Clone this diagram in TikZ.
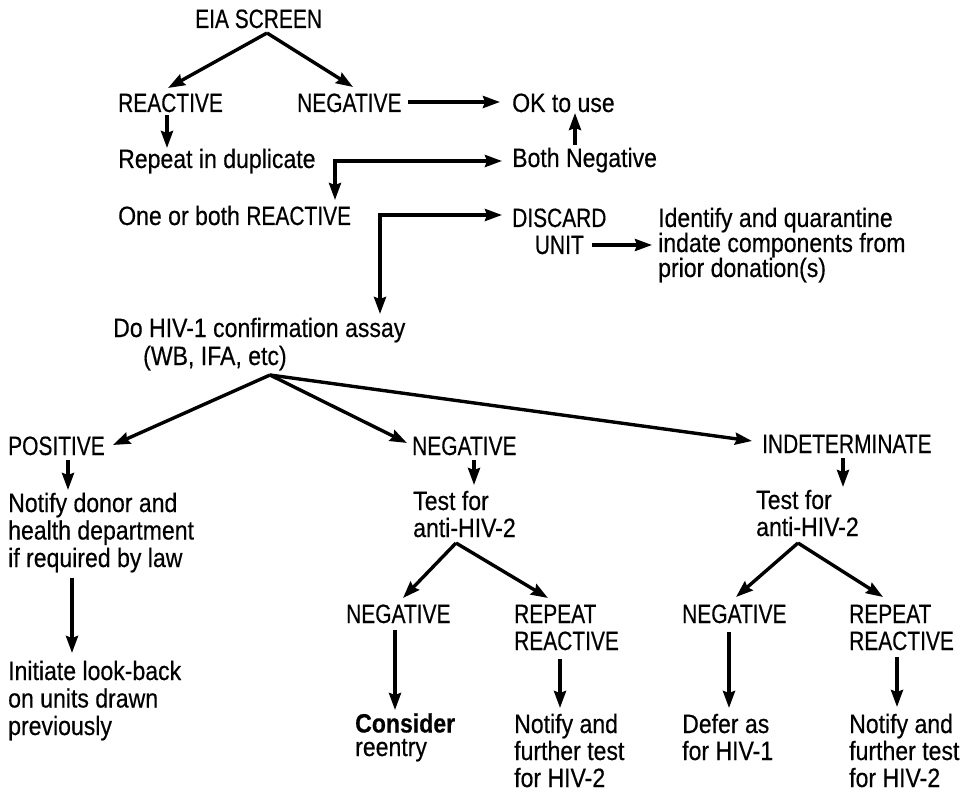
\documentclass[tikz,border=0pt]{standalone}
\usepackage{fontspec}
\setmainfont{Liberation Sans}[FakeStretch=0.87,FakeBold=0.4]
\newfontfamily\capsfont{Liberation Sans}[FakeStretch=0.79,FakeBold=0.4]
\usetikzlibrary{arrows.meta}
\begin{document}
\begin{tikzpicture}[x=1pt,y=-1pt,
  lbl/.style={inner sep=0pt, anchor=base west, align=left, font=\fontsize{26.5}{27}\selectfont},
  caps/.style={lbl, font=\capsfont\fontsize{26.5}{27}\selectfont},
  arr/.style={line width=3.4pt, -{Stealth[length=17pt,width=12pt,inset=2pt]}},
  darr/.style={line width=3.4pt, {Stealth[length=17pt,width=12pt,inset=2pt]}-{Stealth[length=17pt,width=12pt,inset=2pt]}}]
\useasboundingbox (0,0) rectangle (964,794);

% ---- nodes (anchor: baseline of the last line) ----
\node[caps] (eia) at (195,28) {EIA SCREEN};
\node[caps] (react) at (118,112) {REACTIVE};
\node[caps] (neg1) at (297,112) {NEGATIVE};
\node[lbl] (ok) at (512,112) {OK to use};
\node[lbl] (rep) at (118,168) {Repeat in duplicate};
\node[lbl] (bothneg) at (512,167) {Both Negative};
\node[lbl] (oneboth) at (118,225) {One or both {\capsfont REACTIVE}};
\node[caps, align=center] (discard) at (512,254) {DISCARD\\UNIT};
\node[lbl, font=\fontsize{26.5}{25}\selectfont] (ident) at (658,277) {Identify and quarantine\\indate components from\\prior donation(s)};
\node[lbl, font=\fontsize{26.5}{28}\selectfont] (dohiv) at (113,365) {Do HIV-1 confirmation assay\\\hspace*{30pt}(WB, IFA, etc)};
\node[caps] (pos) at (8,455) {POSITIVE};
\node[caps] (neg2) at (412,455) {NEGATIVE};
\node[caps] (indet) at (762,453) {INDETERMINATE};
\node[lbl, font=\fontsize{26.5}{27.5}\selectfont] (notify) at (8,567) {Notify donor and\\health department\\if required by law};
\node[lbl, font=\fontsize{26.5}{27.5}\selectfont] (initiate) at (8,735) {Initiate look-back\\on units drawn\\previously};
\node[lbl] (test1) at (413,537) {Test for\\anti-HIV-2};
\node[lbl] (test2) at (756,536) {Test for\\anti-HIV-2};
\node[caps] (neg3) at (346,623) {NEGATIVE};
\node[caps] (rr1) at (514,650) {REPEAT\\REACTIVE};
\node[caps] (neg4) at (682,623) {NEGATIVE};
\node[caps] (rr2) at (849,650) {REPEAT\\REACTIVE};
\node[lbl, font=\fontsize{26.5}{23.5}\selectfont] (consider) at (355,756) {\textbf{Consider}\\reentry};
\node[lbl] (notify2) at (514,787) {Notify and\\further test\\for HIV-2};
\node[lbl] (defer) at (682,760) {Defer as\\for HIV-1};
\node[lbl] (notify3) at (849,787) {Notify and\\further test\\for HIV-2};

% ---- branch points ----
\coordinate (eiaP) at ([shift={(72,5)}]eia.base west);
\coordinate (doP) at ([shift={(157,10)}]dohiv.base west);
\coordinate (t1P) at ([shift={(43,6)}]test1.base west);
\coordinate (t2P) at ([shift={(42,7)}]test2.base west);

% ---- connectors ----
\draw[arr] (eiaP) -- ([shift={(50,-24)}]react.base west);
\draw[arr] (eiaP) -- ([shift={(56,-25)}]neg1.base west);
\draw[arr] ([shift={(111,-10)}]neg1.base west) -- ([shift={(-12,-10)}]ok.base west);
\draw[arr] ([shift={(49,3)}]react.base west) -- ([shift={(49,-20)}]rep.base west);
\draw[darr] ([shift={(217,-25)}]oneboth.base west) |- ([shift={(-10,-6)}]bothneg.base west);
\draw[arr] ([shift={(63,-22)}]bothneg.base west) -- ([shift={(63,1)}]ok.base west);
\draw[darr] ([shift={(267,-51)}]dohiv.base west) |- ([shift={(-10,-39)}]discard.base west);
\draw[arr] ([shift={(80,-9)}]discard.base west) -- ([shift={(-6,-32)}]ident.base west);

\draw[arr] (doP) -- ([shift={(105,-10)}]pos.base west);
\draw[arr] (doP) -- ([shift={(-5,-12)}]neg2.base west);
\draw[arr] (doP) -- ([shift={(-10,-12)}]indet.base west);

\draw[arr] ([shift={(60,5)}]pos.base west) -- ([shift={(60,-77)}]notify.base west);
\draw[arr] ([shift={(62,5)}]neg2.base west) -- ([shift={(61,-52)}]test1.base west);
\draw[arr] ([shift={(81,5)}]indet.base west) -- ([shift={(87,-49)}]test2.base west);
\draw[arr] ([shift={(64,11)}]notify.base west) -- ([shift={(64,-82)}]initiate.base west);

\draw[arr] (t1P) -- ([shift={(57,-25)}]neg3.base west);
\draw[arr] (t1P) -- ([shift={(34,-52)}]rr1.base west);
\draw[arr] (t2P) -- ([shift={(54,-26)}]neg4.base west);
\draw[arr] (t2P) -- ([shift={(34,-53)}]rr2.base west);

\draw[arr] ([shift={(49,7)}]neg3.base west) -- ([shift={(40,-46)}]consider.base west);
\draw[arr] ([shift={(46,9)}]rr1.base west) -- ([shift={(46,-79)}]notify2.base west);
\draw[arr] ([shift={(47,9)}]neg4.base west) -- ([shift={(47,-52)}]defer.base west);
\draw[arr] ([shift={(48,7)}]rr2.base west) -- ([shift={(48,-80)}]notify3.base west);
\end{tikzpicture}
\end{document}
